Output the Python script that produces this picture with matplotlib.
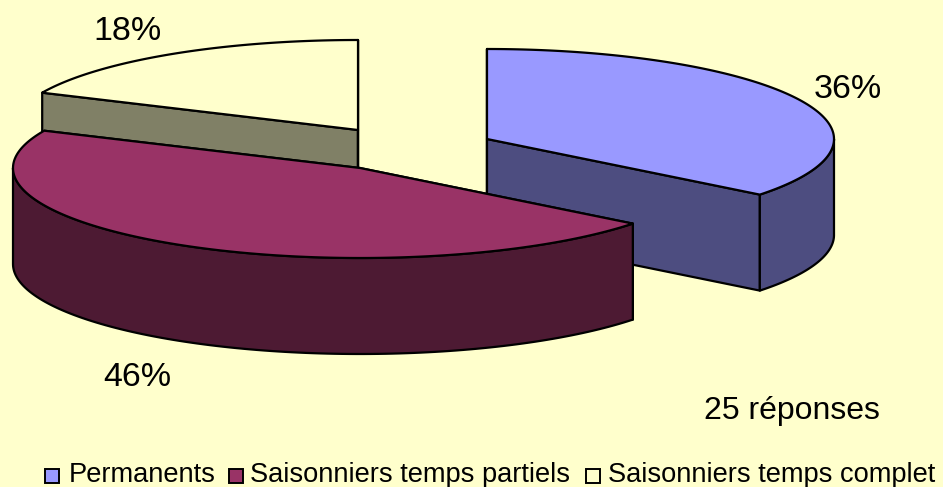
import numpy as np
import matplotlib
matplotlib.use('Agg')
import matplotlib.pyplot as plt
from matplotlib.patches import Polygon, Rectangle

plt.rcParams['font.family'] = ['Liberation Sans', 'DejaVu Sans']

categories = ['Permanents', 'Saisonniers temps partiels', 'Saisonniers temps complet']
shares = [35.6, 46.2, 18.2]
pct_labels = ['36%', '46%', '18%']
note = '25 réponses'

top_colors = ['#9999FF', '#993366', '#FFFFCC']
wall_colors = ['#4D4D80', '#4D1A33', '#808066']
bg = '#FFFFCC'

# centres of the exploded slices, pixels
centers = [(487, 139), (360, 168), (358, 130)]
A, B, DEPTH = 347, 90, 96


def ell(cx, cy, deg):
    t = np.radians(deg)
    return np.column_stack([cx + A * np.sin(t), cy - B * np.cos(t)])


fig = plt.figure(figsize=(9.43, 4.87), dpi=100, facecolor=bg)
ax = fig.add_axes([0, 0, 1, 1])
ax.set_xlim(0, 943)
ax.set_ylim(487, 0)
ax.axis('off')

edges = np.cumsum([0] + shares) / sum(shares) * 360
kw = dict(edgecolor='black', linewidth=1.6, joinstyle='round')

# back slice first, front slice last
for i in [2, 0, 1]:
    cx, cy = centers[i]
    a0, a1 = edges[i], edges[i + 1]
    # radial walls on both cut sides, the top covers whichever faces away
    for a in (a0, a1):
        end = ell(cx, cy, a)[0]
        ax.add_patch(Polygon([(cx, cy), end, end + (0, DEPTH), (cx, cy + DEPTH)],
                             facecolor=wall_colors[i], **kw))
    # outer wall, only the front half of the ellipse is seen
    lo, hi = max(a0, 90), min(a1, 270)
    if hi > lo:
        arc = ell(cx, cy, np.linspace(lo, hi, 120))
        ax.add_patch(Polygon(np.vstack([arc, arc[::-1] + (0, DEPTH)]),
                             facecolor=wall_colors[i], **kw))
    # top
    arc = ell(cx, cy, np.linspace(a0, a1, 200))
    ax.add_patch(Polygon(np.vstack([[(cx, cy)], arc]),
                         facecolor=top_colors[i], **kw))

# percentages
label_pos = [(848, 89), (137, 377), (127, 31)]
for s, (x, y) in zip(pct_labels, label_pos):
    ax.text(x, y, s, fontsize=24.5, ha='center', va='center', color='black')
ax.text(792, 411, note, fontsize=23, ha='center', va='center', color='black')

# legend
swatch_x = [45, 229, 586]
text_x = [69, 250, 608]
for i, name in enumerate(categories):
    ax.add_patch(Rectangle((swatch_x[i], 469), 14, 14, facecolor=top_colors[i],
                           edgecolor='black', linewidth=1.4))
    ax.text(text_x[i], 475, name, fontsize=19.6, ha='left', va='center', color='black')

fig.savefig('out.png', dpi=100, facecolor=bg)
